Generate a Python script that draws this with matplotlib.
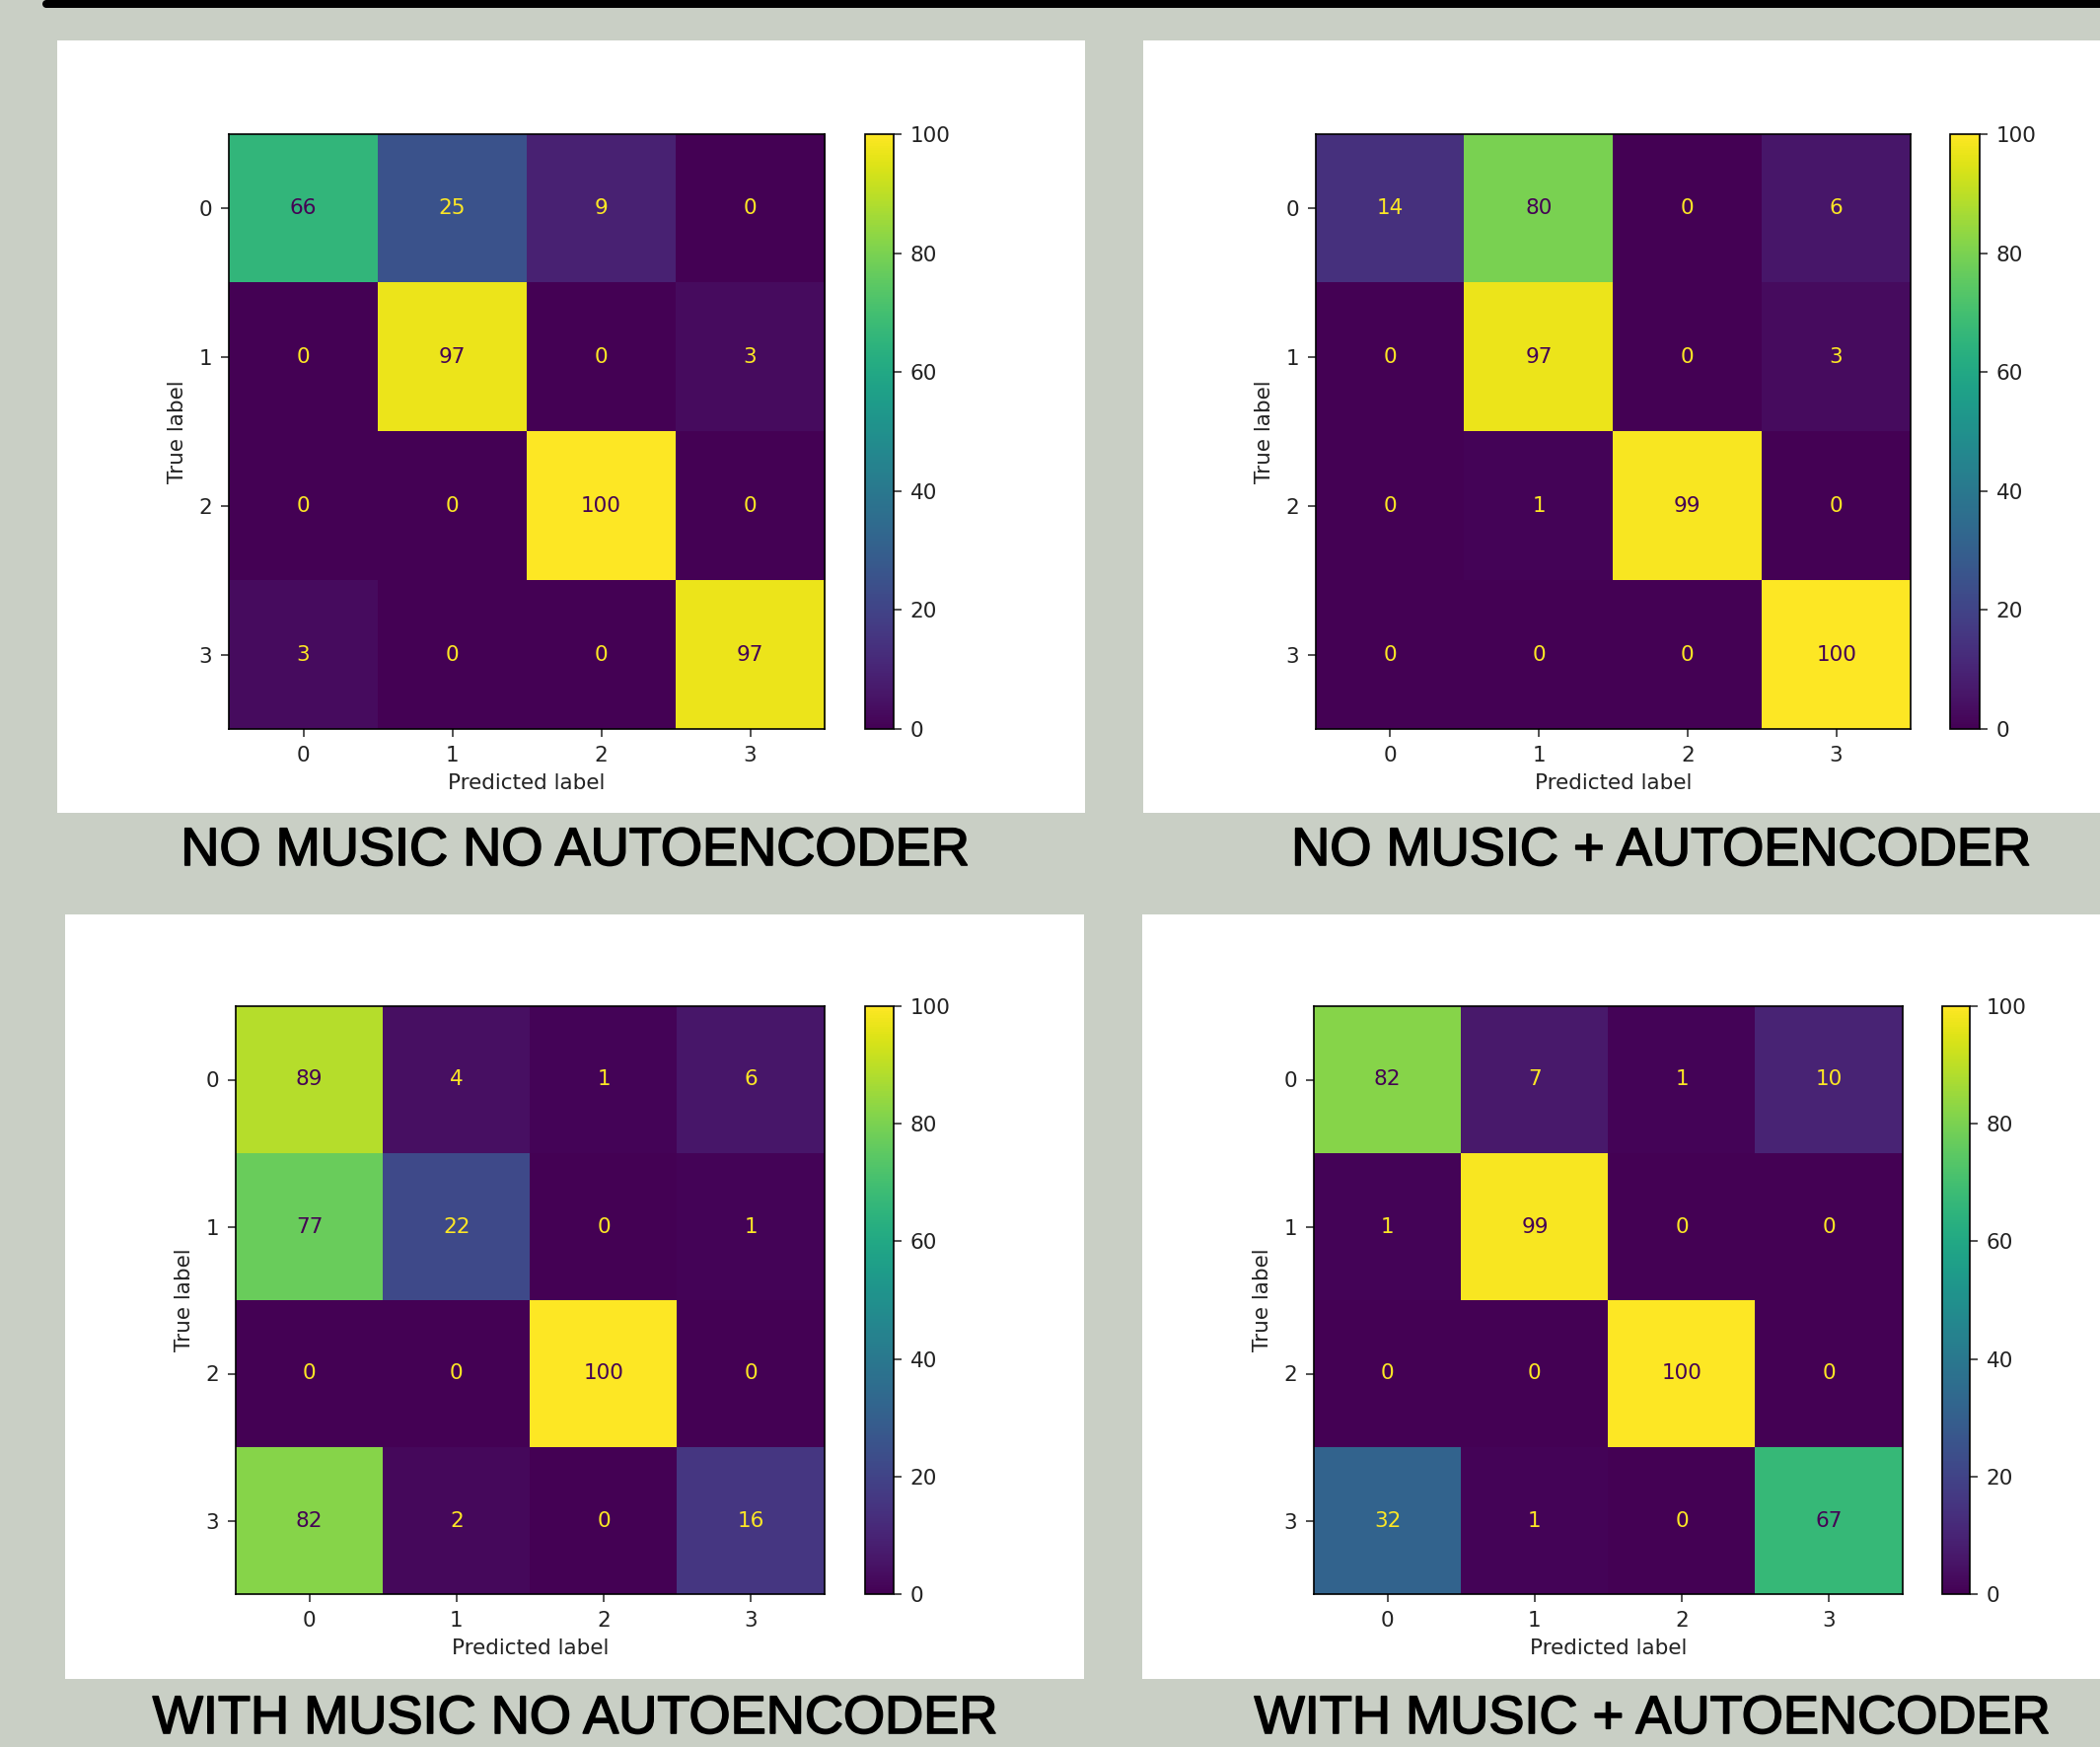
import matplotlib
matplotlib.use("Agg")
import matplotlib.pyplot as plt
import matplotlib.patches as mpatches
import matplotlib.patheffects as pe
import numpy as np

# confusion matrices (percent), rows = true label, cols = predicted label
classes = [0, 1, 2, 3]
cm_no_music_no_ae = [[66, 25, 9, 0],
                     [0, 97, 0, 3],
                     [0, 0, 100, 0],
                     [3, 0, 0, 97]]
cm_no_music_ae = [[14, 80, 0, 6],
                  [0, 97, 0, 3],
                  [0, 1, 99, 0],
                  [0, 0, 0, 100]]
cm_music_no_ae = [[89, 4, 1, 6],
                  [77, 22, 0, 1],
                  [0, 0, 100, 0],
                  [82, 2, 0, 16]]
cm_music_ae = [[82, 7, 1, 10],
               [1, 99, 0, 0],
               [0, 0, 100, 0],
               [32, 1, 0, 67]]
titles = ["NO MUSIC NO AUTOENCODER", "NO MUSIC + AUTOENCODER",
          "WITH MUSIC NO AUTOENCODER", "WITH MUSIC + AUTOENCODER"]
cbar_ticks = [0, 20, 40, 60, 80, 100]

W, H = 2129, 1771
BG = "#c9cfc5"
fig = plt.figure(figsize=(W / 100, H / 100), dpi=100, facecolor=BG)


def box(x0, y0, x1, y1):
    # pixel box (top-left origin) -> figure fraction rect
    return [x0 / W, 1 - y1 / H, (x1 - x0) / W, (y1 - y0) / H]


# black bar along the top
fig.add_artist(mpatches.Rectangle((47 / W, 1 - 8 / H), 1, 8 / H,
                                  transform=fig.transFigure, color="black", lw=0))
fig.add_artist(mpatches.Ellipse((47 / W, 1 - 4 / H), 8 / W, 8 / H,
                                transform=fig.transFigure, color="black", lw=0))

panels = [(58, 41, 1100, 824), (1159, 41, 2129, 824),
          (66, 927, 1099, 1702), (1158, 927, 2129, 1702)]
heat = [(232, 136, 836, 739), (1334, 136, 1937, 739),
        (239, 1020, 836, 1616), (1332, 1020, 1929, 1616)]
cbars = [(877, 136, 906, 739), (1977, 136, 2007, 739),
         (877, 1020, 906, 1616), (1969, 1020, 1997, 1616)]
title_pos = [(583, 877), (1684, 877), (583, 1757), (1675, 1757)]

cmap = plt.get_cmap("viridis")
fs = 15.5
matrices = [cm_no_music_no_ae, cm_no_music_ae, cm_music_no_ae, cm_music_ae]

for i, cm in enumerate(matrices):
    cm = np.array(cm)
    x, y, w, h = box(*panels[i])
    fig.add_artist(mpatches.Rectangle((x, y), w, h, transform=fig.transFigure,
                                      color="white", lw=0, zorder=-5))
    ax = fig.add_axes(box(*heat[i]))
    im = ax.imshow(cm, cmap=cmap, vmin=cm.min(), vmax=cm.max(), aspect="auto",
                   interpolation="nearest")
    thresh = (cm.max() + cm.min()) / 2.0
    for r in range(cm.shape[0]):
        for c in range(cm.shape[1]):
            col = cmap(0) if cm[r, c] >= thresh else cmap(1.0)
            ax.text(c, r, str(cm[r, c]), ha="center", va="center", color=col, fontsize=fs)
    ax.set_xticks(range(len(classes)))
    ax.set_yticks(range(len(classes)))
    ax.set_xticklabels(classes)
    ax.set_yticklabels(classes)
    ax.set_xlabel("Predicted label", fontsize=fs, color="#222222", labelpad=6)
    ax.set_ylabel("True label", fontsize=fs, color="#222222", labelpad=8)
    ax.tick_params(labelsize=fs, length=6, width=1.1, pad=6, colors="#222222")
    for s in ax.spines.values():
        s.set_linewidth(1.2)

    cax = fig.add_axes(box(*cbars[i]))
    cb = fig.colorbar(im, cax=cax, ticks=cbar_ticks)
    cb.outline.set_linewidth(1.2)
    cax.tick_params(labelsize=fs, length=6, width=1.1, pad=6, colors="#222222")

    tx, ty = title_pos[i]
    fig.text(tx / W, 1 - ty / H, titles[i], ha="center", va="baseline",
             fontsize=39, family="Liberation Sans", color="black",
             path_effects=[pe.withStroke(linewidth=1.2, foreground="black")])

fig.savefig("out.png", dpi=100, facecolor=BG)
